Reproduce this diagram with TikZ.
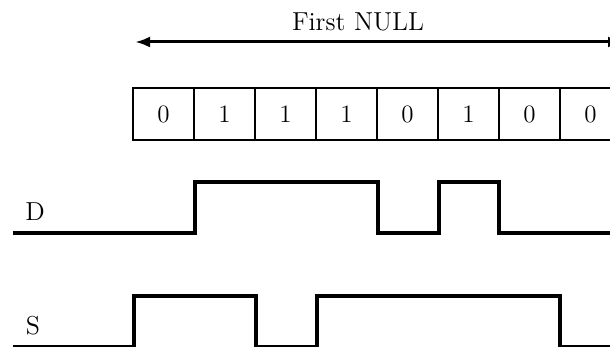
\documentclass[tikz,border=0pt]{standalone}
\usepackage{tikz}
\usetikzlibrary{positioning, arrows.meta}

\begin{document}
\begin{tikzpicture}[x=0.5pt,y=-0.5pt,
                    cell/.style={draw,line width=1pt,minimum width=30.5pt,minimum height=26pt,inner sep=0pt,outer sep=0pt,font=\fontsize{12.5}{14}\selectfont},
                    wave/.style={line width=1.65pt,miter limit=10},
                    label node/.style={font=\fontsize{13}{15}\selectfont}]
  \useasboundingbox (0,0) rectangle (610,347);

  \node[cell] (c1) at (163.5,114) {0};
  \node[cell] (c2) [right=0pt of c1] {1};
  \node[cell] (c3) [right=0pt of c2] {1};
  \node[cell] (c4) [right=0pt of c3] {1};
  \node[cell] (c5) [right=0pt of c4] {0};
  \node[cell] (c6) [right=0pt of c5] {1};
  \node[cell] (c7) [right=0pt of c6] {0};
  \node[cell] (c8) [right=0pt of c7] {0};

  \coordinate (AL) at (135,42);
  \coordinate (AR) at (623,42);
  \draw[line width=1.5pt,{Latex[length=7.5pt,width=5.5pt]}-{Latex[length=7.5pt,width=5.5pt]}] (AL) -- (AR);
  \node[label node] (null) at (358,22) {First NULL};

  \node[label node] (D) at (35,212) {D};
  \node[label node] (S) at (33,326) {S};

  % data line
  \draw[wave] (13,233) -- (195,233) -- (195,182) -- (378,182) -- (378,233)
    -- (439,233) -- (439,182) -- (499,182) -- (499,233) -- (612,233);
  % strobe line
  \draw[wave] (13,347) -- (134,347) -- (134,296) -- (256,296) -- (256,347)
    -- (317,347) -- (317,296) -- (560,296) -- (560,347) -- (612,347);

\end{tikzpicture}
\end{document}
